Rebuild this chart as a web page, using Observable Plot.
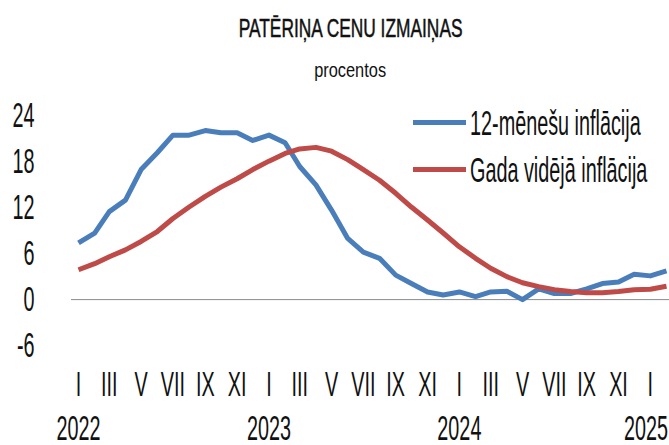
<!DOCTYPE html>
<html><head><meta charset="utf-8">
<script src="https://cdn.jsdelivr.net/npm/d3@7"></script>
<script src="https://cdn.jsdelivr.net/npm/@observablehq/plot@0.6"></script>
<style>
body{margin:0;background:#fff;font-family:"Liberation Sans",Arial,sans-serif;color:#111}
#wrap{position:relative;width:669px;height:445px;overflow:hidden}
#title{position:absolute;top:16px;left:32px;width:637px;text-align:center;font-size:25.5px;line-height:25px;white-space:nowrap}
#title span{display:inline-block;transform:scaleX(0.68);-webkit-text-stroke:0.5px #111}
#subtitle{position:absolute;top:59px;left:32px;width:637px;text-align:center;font-size:21px;line-height:21px}
#subtitle span{display:inline-block;transform:scaleX(0.78)}
#chart{position:absolute;left:0;top:95px}
.leg{position:absolute;left:413px;height:35px;font-size:35px;line-height:35px;white-space:nowrap}
.leg .sw{position:absolute;left:0;top:15px;width:53px;height:5px}
.leg .lb{position:absolute;left:57px;top:0;transform:scaleX(0.566);transform-origin:0 0}
</style></head>
<body>
<div id="wrap">
  <div id="title"><span>PATĒRIŅA CENU IZMAIŅAS</span></div>
  <div id="subtitle"><span>procentos</span></div>
  <div id="chart"></div>
  <div class="leg" id="leg1" style="top:105px"><div class="sw" style="background:#4A7EBB"></div><div class="lb">12-mēnešu inflācija</div></div>
  <div class="leg" id="leg2" style="top:152px"><div class="sw" style="background:#BE4B48"></div><div class="lb">Gada vidējā inflācija</div></div>
</div>
<script>
const months = ["2022-01","2022-02","2022-03","2022-04","2022-05","2022-06","2022-07","2022-08","2022-09","2022-10","2022-11","2022-12",
"2023-01","2023-02","2023-03","2023-04","2023-05","2023-06","2023-07","2023-08","2023-09","2023-10","2023-11","2023-12",
"2024-01","2024-02","2024-03","2024-04","2024-05","2024-06","2024-07","2024-08","2024-09","2024-10","2024-11","2024-12",
"2025-01","2025-02"];
const inflation12 = [7.4,8.7,11.5,13.0,17.0,19.2,21.5,21.5,22.1,21.8,21.8,20.8,
21.5,20.5,17.4,15.0,11.7,8.0,6.2,5.4,3.2,2.1,1.0,0.6,
1.0,0.4,1.0,1.1,0.0,1.4,0.8,0.8,1.4,2.1,2.3,3.3,
3.1,3.75];
const inflationAvg = [3.9,4.7,5.6,6.5,7.6,8.9,10.6,12.1,13.5,14.7,15.8,17.0,
18.1,19.1,19.7,19.9,19.4,18.3,17.0,15.6,13.9,12.1,10.4,8.7,
6.9,5.4,4.1,3.0,2.2,1.7,1.3,1.05,0.9,0.9,1.05,1.3,
1.35,1.75];
const romanLabels = ["I","II","III","IV","V","VI","VII","VIII","IX","X","XI","XII"];
const yTicks = [-6,0,6,12,18,24];
const seriesNames = ["12-mēnešu inflācija","Gada vidējā inflācija"];

const dates = months.map(m => new Date(m + "-01T00:00:00Z"));
const rows = [];
dates.forEach((d,i) => {
  rows.push({date:d, value:inflation12[i], series:seriesNames[0]});
  rows.push({date:d, value:inflationAvg[i], series:seriesNames[1]});
});
const romanTicks = dates.filter(d => d.getUTCMonth() % 2 === 0);
const yearTicks = dates.filter(d => d.getUTCMonth() === 0);

const chart = Plot.plot({
  width: 669,
  height: 350,
  marginLeft: 78,
  marginRight: 3,
  marginTop: 20.5,
  marginBottom: 100,
  style: {fontFamily: "'Liberation Sans', Arial, sans-serif", fontSize: "35px", color: "#111", background: "#fff", overflow: "visible"},
  x: {type: "utc", domain: [dates[0], dates[dates.length-1]]},
  y: {domain: [-6, 24]},
  color: {domain: seriesNames, range: ["#4A7EBB", "#BE4B48"]},
  marks: [
    Plot.axisY(yTicks, {tickSize: 0, tickPadding: 44, tickFormat: d => String(d), label: null}),
    Plot.axisX(romanTicks, {tickSize: 0, tickPadding: 26, tickFormat: d => romanLabels[d.getUTCMonth()], label: null}),
    Plot.axisX(yearTicks, {tickSize: 0, tickPadding: 70, tickFormat: d => String(d.getUTCFullYear()), label: null, ariaLabel: "year-axis"}),
    Plot.ruleY([0], {stroke: "#8c8c8c", strokeWidth: 1, insetLeft: -7, insetRight: -3}),
    Plot.line(rows, {x: "date", y: "value", z: "series", stroke: "series", strokeWidth: 5, strokeLinejoin: "round", strokeLinecap: "butt"})
  ]
});
chart.querySelectorAll('g[aria-label$="tick label"] text').forEach(t => {
  t.setAttribute("transform", (t.getAttribute("transform") || "") + " scale(0.566,1)");
});
document.getElementById("chart").appendChild(chart);
// keep the last year label inside the picture, as the reference does
const svgRight = chart.getBoundingClientRect().right;
chart.querySelectorAll('g[aria-label$="tick label"] text').forEach(t => {
  const r = t.getBoundingClientRect();
  if (r.right > svgRight - 1) {
    const shift = r.right - (svgRight - 1);
    t.setAttribute("transform", "translate(" + (-shift) + ",0) " + t.getAttribute("transform"));
  }
});
</script>
</body></html>
